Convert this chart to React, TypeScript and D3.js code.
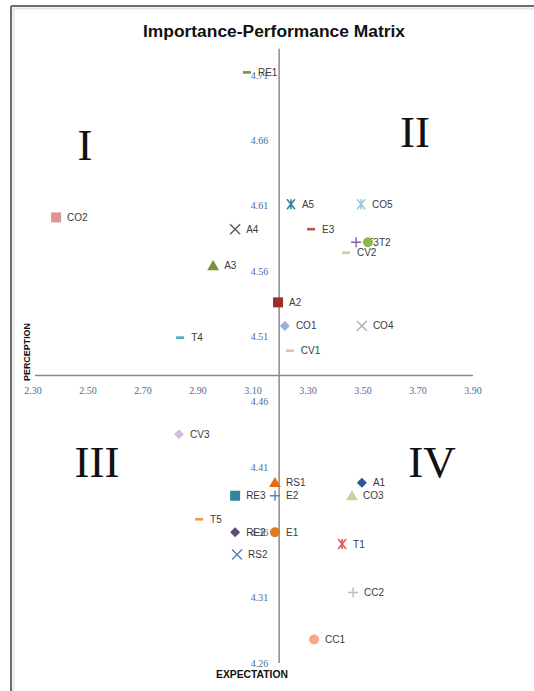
import React from "react";
import * as d3 from "d3";

// ---- data ----
const names = ["RE1","CO2","A4","A3","A5","CO5","E3","T3","T2","CV2","A2","CO1","CO4","CV1","T4","CV3","RS1","RE3","E2","T5","RE2","E1","RS2","A1","CO3","T1","CC2","CC1"];
const expectation = [3.078,2.384,3.035,2.955,3.238,3.493,3.311,3.475,3.518,3.438,3.191,3.216,3.496,3.234,2.835,2.831,3.180,3.035,3.180,2.904,3.035,3.180,3.042,3.496,3.460,3.424,3.464,3.322];
const perception = [4.712,4.601,4.592,4.564,4.611,4.611,4.592,4.582,4.582,4.574,4.536,4.518,4.518,4.499,4.509,4.435,4.398,4.388,4.388,4.370,4.360,4.360,4.343,4.398,4.388,4.351,4.314,4.278];
const xTicks = [2.3, 2.5, 2.7, 2.9, 3.1, 3.3, 3.5, 3.7, 3.9];
const yTicks = [4.26, 4.31, 4.36, 4.41, 4.46, 4.51, 4.56, 4.61, 4.66, 4.71];
const quadrants = ["I", "II", "III", "IV"];
const crossX = 3.195;
const crossY = 4.48;

// ---- marker styles (not data) ----
type Shape = "dash" | "square" | "x" | "triangle" | "star" | "plus" | "circle" | "diamond";
const markerStyles: Record<string, { shape: Shape; color: string }> = {
  RE1: { shape: "dash", color: "#77933c" },
  CO2: { shape: "square", color: "#d99694" },
  A4: { shape: "x", color: "#595959" },
  A3: { shape: "triangle", color: "#77933c" },
  A5: { shape: "star", color: "#31859c" },
  CO5: { shape: "star", color: "#93cddd" },
  E3: { shape: "dash", color: "#c0504d" },
  T3: { shape: "plus", color: "#8064a2" },
  T2: { shape: "circle", color: "#8cb84a" },
  CV2: { shape: "dash", color: "#c3d69b" },
  A2: { shape: "square", color: "#9b2d2a" },
  CO1: { shape: "diamond", color: "#95b3d7" },
  CO4: { shape: "x", color: "#a6a6a6" },
  CV1: { shape: "dash", color: "#e6b9b8" },
  T4: { shape: "dash", color: "#4bacc6" },
  CV3: { shape: "diamond", color: "#ccc1da" },
  RS1: { shape: "triangle", color: "#e46c0a" },
  RE3: { shape: "square", color: "#31859c" },
  E2: { shape: "plus", color: "#4f81bd" },
  T5: { shape: "dash", color: "#f79646" },
  RE2: { shape: "diamond", color: "#604a7b" },
  E1: { shape: "circle", color: "#e07b25" },
  RS2: { shape: "x", color: "#4f81bd" },
  A1: { shape: "diamond", color: "#2c5596" },
  CO3: { shape: "triangle", color: "#c3d69b" },
  T1: { shape: "star", color: "#e0555a" },
  CC2: { shape: "plus", color: "#bfbfbf" },
  CC1: { shape: "circle", color: "#f7a882" },
};

const W = 534;
const H = 691;

function Marker({ cx, cy, shape, color }: { cx: number; cy: number; shape: Shape; color: string }) {
  const s = 5;
  switch (shape) {
    case "dash":
      return <rect x={cx - 4} y={cy - 1.3} width={8} height={2.6} fill={color} />;
    case "square":
      return <rect x={cx - s} y={cy - s} width={2 * s} height={2 * s} fill={color} />;
    case "circle":
      return <circle cx={cx} cy={cy} r={5} fill={color} />;
    case "triangle":
      return <path d={d3.symbol(d3.symbolTriangle, 60)() || ""} transform={`translate(${cx},${cy + 1})`} fill={color} />;
    case "diamond":
      return <path d={`M${cx},${cy - 5}L${cx + 5},${cy}L${cx},${cy + 5}L${cx - 5},${cy}Z`} fill={color} />;
    case "x":
      return (
        <path d={`M${cx - 5},${cy - 5}L${cx + 5},${cy + 5}M${cx + 5},${cy - 5}L${cx - 5},${cy + 5}`} stroke={color} strokeWidth={1.4} fill="none" />
      );
    case "plus":
      return (
        <path d={`M${cx - 5},${cy}L${cx + 5},${cy}M${cx},${cy - 5}L${cx},${cy + 5}`} stroke={color} strokeWidth={1.4} fill="none" />
      );
    case "star":
      return (
        <path
          d={`M${cx - 4},${cy - 5}L${cx + 4},${cy + 5}M${cx + 4},${cy - 5}L${cx - 4},${cy + 5}M${cx},${cy - 5}L${cx},${cy + 5}`}
          stroke={color}
          strokeWidth={1.6}
          fill="none"
        />
      );
  }
  return null;
}

export default function App() {
  const x = d3.scaleLinear().domain([2.3, 3.9]).range([33, 473]);
  const y = d3.scaleLinear().domain([4.26, 4.71]).range([663, 75]);
  const ax = x(crossX);
  const ay = y(crossY);
  const tickColor = "#4a6b9a";
  const quadPos = [
    { cx: 85, by: 160 },
    { cx: 415, by: 147 },
    { cx: 97, by: 477 },
    { cx: 432, by: 477 },
  ];

  return (
    <svg width={W} height={H} style={{ position: "absolute", left: 0, top: 0, background: "#fff" }}>
      <rect x={0} y={0} width={W} height={H} fill="#fff" />
      {/* frame */}
      <line x1={11} y1={6} x2={W} y2={6} stroke="#6e6e6e" strokeWidth={2} />
      <line x1={11} y1={6} x2={11} y2={H} stroke="#6e6e6e" strokeWidth={2} />
      <line x1={13} y1={8.5} x2={W} y2={8.5} stroke="#e6e6e6" strokeWidth={2} />
      <line x1={13.5} y1={8} x2={13.5} y2={H} stroke="#e6e6e6" strokeWidth={2} />

      {/* title */}
      <text x={274} y={37} textAnchor="middle" fontFamily="Liberation Sans, Arial, sans-serif" fontWeight="bold" fontSize={16} fill="#111" textLength={262} lengthAdjust="spacingAndGlyphs">
        Importance-Performance Matrix
      </text>

      {/* quadrant numerals */}
      {quadrants.map((q, i) => (
        <text key={q} x={quadPos[i].cx} y={quadPos[i].by} textAnchor="middle" fontFamily="Liberation Serif, Times New Roman, serif" fontSize={45} fill="#111">
          {q}
        </text>
      ))}

      {/* axes */}
      <line x1={x(2.3) + 2} y1={ay} x2={x(3.9)} y2={ay} stroke="#8a8a8a" strokeWidth={1.5} />
      <line x1={ax} y1={y(4.73)} x2={ax} y2={y(4.26)} stroke="#8a8a8a" strokeWidth={1.5} />

      {/* x tick labels */}
      {xTicks.map((t) => (
        <text key={"x" + t} x={x(t)} y={ay + 18} textAnchor="middle" fontFamily="Liberation Serif, serif" fontSize={10} fill={tickColor}>
          {t.toFixed(2)}
        </text>
      ))}
      {/* y tick labels */}
      {yTicks.map((t) => (
        <text key={"y" + t} x={ax - 11} y={y(t) + 3.5} textAnchor="end" fontFamily="Liberation Serif, serif" fontSize={10} fill={tickColor}>
          {t.toFixed(2)}
        </text>
      ))}

      {/* axis titles */}
      <text transform="translate(29.5,352) rotate(-90)" textAnchor="middle" fontFamily="Liberation Sans, Arial, sans-serif" fontWeight="bold" fontSize={9.5} fill="#111" textLength={58} lengthAdjust="spacingAndGlyphs">
        PERCEPTION
      </text>
      <text x={252} y={678} textAnchor="middle" fontFamily="Liberation Sans, Arial, sans-serif" fontWeight="bold" fontSize={10} fill="#111" textLength={72} lengthAdjust="spacingAndGlyphs">
        EXPECTATION
      </text>

      {/* points */}
      {names.map((n, i) => {
        const st = markerStyles[n];
        const cx = x(expectation[i]);
        const cy = y(perception[i]);
        return (
          <g key={n}>
            <Marker cx={cx} cy={cy} shape={st.shape} color={st.color} />
            <text x={cx + 11} y={cy + 3.5} fontFamily="Liberation Sans, Arial, sans-serif" fontSize={10} fill="#3a3a3a">
              {n}
            </text>
          </g>
        );
      })}
    </svg>
  );
}
